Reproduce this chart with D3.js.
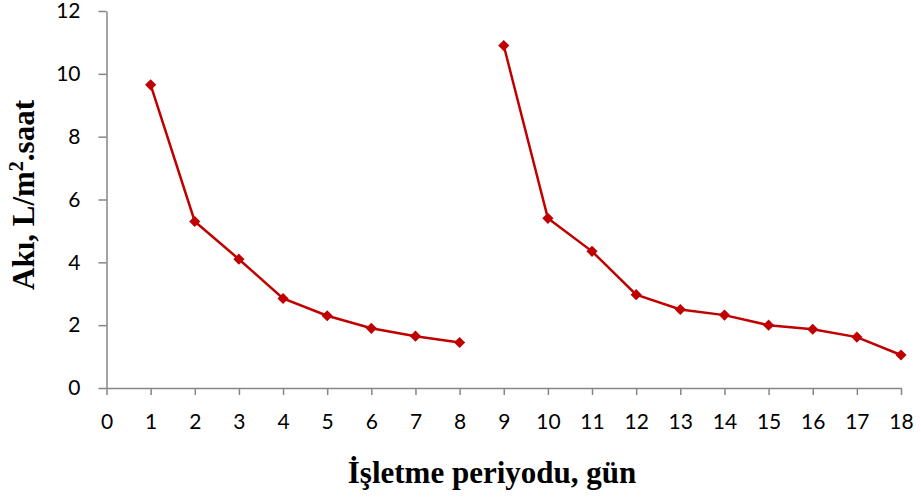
<!DOCTYPE html>
<html>
<head>
<meta charset="utf-8">
<script src="https://cdn.jsdelivr.net/npm/d3@7"></script>
<style>
  body { margin: 0; background: #fff; }
  .axis text { font-family: Lato, "Open Sans", sans-serif; font-size: 21px; fill: #000; }
  .axis path, .axis line { stroke: #868686; stroke-width: 1.5px; }
</style>
</head>
<body>
<div id="chart"></div>
<script>
// days and flux values, two runs
let days1 = [1, 2, 3, 4, 5, 6, 7, 8]
let flux1 = [9.65, 5.3, 4.1, 2.85, 2.3, 1.9, 1.65, 1.45]
let days2 = [9, 10, 11, 12, 13, 14, 15, 16, 17, 18]
let flux2 = [10.9, 5.4, 4.35, 2.97, 2.5, 2.32, 2.0, 1.87, 1.62, 1.05]
let xTicks = d3.range(0, 19)
let yTicks = [0, 2, 4, 6, 8, 10, 12]

let margin = {left: 106.5, right: 20, top: 11, bottom: 116}

let svg = d3.select('#chart').append('svg')
  .attr('width', 921)
  .attr('height', 504)

let g = svg.append('g')
  .attr('transform', 'translate(' + margin.left + ',' + margin.top + ')')

let x = d3.scaleLinear().domain([0, 18]).range([0, 794.5])
let y = d3.scaleLinear().domain([0, 12]).range([377, 0])

g.append('g')
  .attr('class', 'axis')
  .attr('transform', 'translate(0,' + y(0) + ')')
  .call(d3.axisBottom(x).tickValues(xTicks).tickSize(7).tickPadding(19).tickSizeOuter(0))

g.append('g')
  .attr('class', 'axis')
  .call(d3.axisLeft(y).tickValues(yTicks).tickSize(8).tickPadding(18).tickSizeOuter(0))

// Y label
let yLabel = g.append('text')
  .attr('transform', 'translate(' + (34 - margin.left) + ',' + (195 - margin.top) + ') rotate(-90)')
  .attr('text-anchor', 'middle')
  .attr('font-family', '"Liberation Serif", "Times New Roman", serif')
  .attr('font-weight', 'bold')
  .attr('font-size', '31px')
yLabel.append('tspan').text('Akı, L/m')
yLabel.append('tspan').attr('font-size', '20px').attr('dy', -11).text('2')
yLabel.append('tspan').attr('dy', 11).text('.saat')

// X label
g.append('text')
  .attr('x', 492 - margin.left)
  .attr('y', 483 - margin.top)
  .attr('text-anchor', 'middle')
  .attr('font-family', '"Liberation Serif", "Times New Roman", serif')
  .attr('font-weight', 'bold')
  .attr('font-size', '31px')
  .text('İşletme periyodu, gün')

let line = d3.line()
  .x(d => x(d[0]))
  .y(d => y(d[1]))

let series = [d3.zip(days1, flux1), d3.zip(days2, flux2)]
let marker = d3.symbol().type(d3.symbolSquare).size(62)

series.forEach(function(pts) {
  g.append('path')
    .attr('fill', 'none')
    .attr('stroke', '#C00000')
    .attr('stroke-width', 2.5)
    .attr('d', line(pts))

  g.selectAll(null)
    .data(pts)
    .enter()
    .append('path')
    .attr('d', marker)
    .attr('fill', '#C00000')
    .attr('transform', d => 'translate(' + x(d[0]) + ',' + y(d[1]) + ') rotate(45)')
})
</script>
</body>
</html>
